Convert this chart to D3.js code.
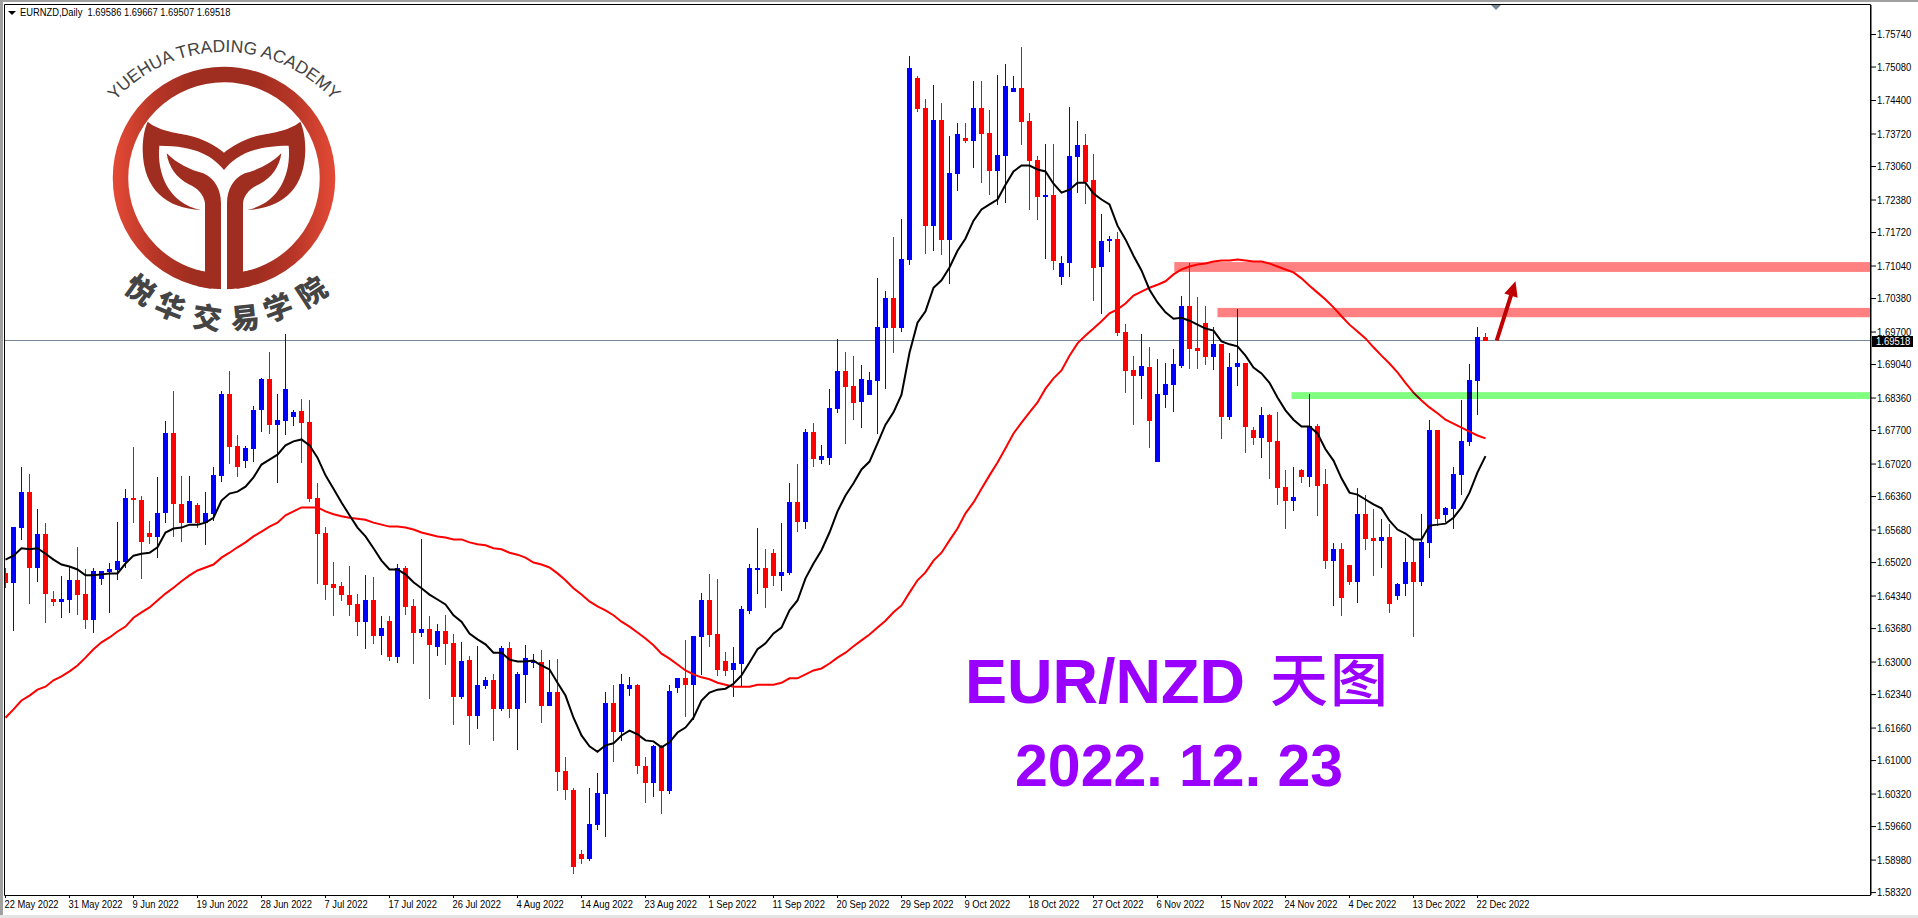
<!DOCTYPE html>
<html><head><meta charset="utf-8">
<script src="https://cdn.jsdelivr.net/npm/d3@7/dist/d3.min.js"></script>
<style>
html,body{margin:0;padding:0;background:#fff;overflow:hidden}
svg{display:block}
.lab{font-family:"Liberation Sans",Arial,sans-serif;font-size:11px;fill:#000}
</style></head><body><svg id="c" width="1918" height="918"></svg>
<script>
const title = "EURNZD,Daily  1.69586 1.69667 1.69507 1.69518";
const dateLabels = ["22 May 2022","31 May 2022","9 Jun 2022","19 Jun 2022","28 Jun 2022","7 Jul 2022","17 Jul 2022","26 Jul 2022","4 Aug 2022","14 Aug 2022","23 Aug 2022","1 Sep 2022","11 Sep 2022","20 Sep 2022","29 Sep 2022","9 Oct 2022","18 Oct 2022","27 Oct 2022","6 Nov 2022","15 Nov 2022","24 Nov 2022","4 Dec 2022","13 Dec 2022","22 Dec 2022"];
const priceTicks = [1.7574,1.7508,1.7440,1.7372,1.7306,1.7238,1.7172,1.7104,1.7038,1.6970,1.6904,1.6836,1.6770,1.6702,1.6636,1.6568,1.6502,1.6434,1.6368,1.6300,1.6234,1.6166,1.6100,1.6032,1.5966,1.5898,1.5832];
const lastPrice = 1.69518;
const opens = [1.6479,1.6459,1.6572,1.6645,1.6489,1.6558,1.6428,1.6420,1.6426,1.6465,1.6438,1.6385,1.6467,1.6481,1.6485,1.6503,1.6633,1.6629,1.6562,1.6552,1.6601,1.6765,1.6619,1.6582,1.6617,1.6582,1.6599,1.6676,1.6844,1.6737,1.6708,1.6731,1.6810,1.6873,1.6781,1.6789,1.6796,1.6808,1.6787,1.6633,1.6560,1.6457,1.6453,1.6436,1.6416,1.6381,1.6426,1.6351,1.6383,1.6310,1.6489,1.6412,1.6359,1.6367,1.6329,1.6363,1.6337,1.6229,1.6304,1.6190,1.6251,1.6262,1.6203,1.6327,1.6203,1.6272,1.6300,1.6300,1.6209,1.6239,1.6077,1.6040,1.5909,1.5899,1.5969,1.6032,1.6215,1.6158,1.6245,1.6253,1.6089,1.6054,1.6128,1.6038,1.6247,1.6266,1.6253,1.6349,1.6426,1.6355,1.6302,1.6282,1.6296,1.6402,1.6487,1.6489,1.6521,1.6473,1.6479,1.6623,1.6584,1.6767,1.6710,1.6714,1.6812,1.6889,1.6860,1.6826,1.6842,1.6869,1.6978,1.7039,1.6978,1.7116,1.7484,1.7423,1.7185,1.7400,1.7155,1.7289,1.7362,1.7356,1.7423,1.7374,1.7295,1.7327,1.7457,1.7465,1.7398,1.7319,1.7244,1.7248,1.7080,1.7110,1.7325,1.7348,1.7277,1.7100,1.7153,1.7157,1.6970,1.6891,1.6879,1.6899,1.6706,1.6842,1.6862,1.6901,1.7021,1.6936,1.6988,1.6919,1.6944,1.6796,1.6897,1.6907,1.6771,1.6753,1.6800,1.6747,1.6655,1.6625,1.6688,1.6674,1.6779,1.6660,1.6505,1.6528,1.6497,1.6461,1.6599,1.6550,1.6544,1.6552,1.6434,1.6457,1.6503,1.6461,1.6540,1.6771,1.6597,1.6609,1.6678,1.6745,1.6869,1.69586];
const closes = [1.6459,1.6574,1.6645,1.6489,1.6558,1.6438,1.6420,1.6428,1.6465,1.6436,1.6385,1.6483,1.6483,1.6487,1.6505,1.6633,1.6627,1.6542,1.6552,1.6601,1.6765,1.6619,1.6582,1.6625,1.6582,1.6601,1.6678,1.6844,1.6735,1.6696,1.6733,1.6810,1.6873,1.6781,1.6791,1.6854,1.6806,1.6785,1.6631,1.6558,1.6455,1.6449,1.6436,1.6414,1.6381,1.6426,1.6351,1.6369,1.6310,1.6489,1.6410,1.6359,1.6367,1.6333,1.6363,1.6335,1.6229,1.6302,1.6190,1.6253,1.6262,1.6203,1.6327,1.6203,1.6274,1.6308,1.6302,1.6209,1.6239,1.6075,1.6040,1.5882,1.5899,1.5971,1.6034,1.6215,1.6158,1.6255,1.6253,1.6087,1.6054,1.6128,1.6038,1.6241,1.6266,1.6253,1.6351,1.6426,1.6353,1.6282,1.6280,1.6298,1.6406,1.6489,1.6489,1.6449,1.6473,1.6481,1.6623,1.6584,1.6767,1.6712,1.6717,1.6814,1.6889,1.6858,1.6824,1.6873,1.6871,1.6980,1.7039,1.6978,1.7118,1.7506,1.7421,1.7185,1.7400,1.7155,1.7291,1.7370,1.7356,1.7423,1.7372,1.7295,1.7329,1.7469,1.7465,1.7396,1.7317,1.7244,1.7248,1.7114,1.7110,1.7327,1.7348,1.7274,1.7098,1.7153,1.7157,1.6968,1.6889,1.6879,1.6901,1.6789,1.6844,1.6864,1.6905,1.7021,1.6934,1.6931,1.6919,1.6944,1.6796,1.6899,1.6907,1.6777,1.6753,1.6800,1.6745,1.6653,1.6625,1.6635,1.6674,1.6779,1.6657,1.6505,1.6528,1.6430,1.6461,1.6599,1.6548,1.6544,1.6552,1.6416,1.6457,1.6503,1.6461,1.6542,1.6771,1.6590,1.6611,1.6680,1.6747,1.6871,1.6958,1.69518];
const highs = [1.6489,1.6574,1.6694,1.6680,1.6609,1.6582,1.6444,1.6473,1.6491,1.6532,1.6487,1.6489,1.6483,1.6501,1.6584,1.6651,1.6735,1.6637,1.6586,1.6674,1.6789,1.6850,1.6676,1.6676,1.6621,1.6645,1.6694,1.6850,1.6889,1.6759,1.6737,1.6818,1.6875,1.6929,1.6844,1.6966,1.6810,1.6834,1.6830,1.6662,1.6574,1.6503,1.6461,1.6495,1.6438,1.6475,1.6471,1.6392,1.6392,1.6499,1.6495,1.6428,1.6548,1.6392,1.6377,1.6394,1.6355,1.6339,1.6312,1.6331,1.6268,1.6274,1.6331,1.6339,1.6278,1.6333,1.6316,1.6323,1.6304,1.6306,1.6107,1.6044,1.5917,1.6044,1.6073,1.6239,1.6253,1.6274,1.6268,1.6255,1.6107,1.6130,1.6130,1.6253,1.6266,1.6343,1.6351,1.6440,1.6477,1.6467,1.6320,1.6329,1.6412,1.6499,1.6572,1.6528,1.6528,1.6582,1.6662,1.6702,1.6773,1.6785,1.6739,1.6854,1.6954,1.6929,1.6921,1.6903,1.6887,1.7078,1.7053,1.7161,1.7199,1.7530,1.7488,1.7443,1.7471,1.7433,1.7366,1.7394,1.7394,1.7478,1.7478,1.7419,1.7490,1.7514,1.7488,1.7547,1.7413,1.7327,1.7350,1.7350,1.7124,1.7425,1.7398,1.7372,1.7331,1.7208,1.7163,1.7173,1.6986,1.6921,1.6966,1.6938,1.6915,1.6907,1.6934,1.7043,1.7110,1.7041,1.7021,1.6980,1.6944,1.6927,1.7015,1.6907,1.6777,1.6816,1.6802,1.6806,1.6688,1.6694,1.6690,1.6844,1.6783,1.6690,1.6540,1.6540,1.6497,1.6653,1.6639,1.6609,1.6590,1.6580,1.6459,1.6550,1.6550,1.6599,1.6791,1.6771,1.6613,1.6694,1.6830,1.6905,1.6980,1.69667];
const lows = [1.6450,1.6363,1.6546,1.6416,1.6461,1.6379,1.6412,1.6389,1.6398,1.6394,1.6367,1.6359,1.6455,1.6398,1.6465,1.6489,1.6582,1.6467,1.6538,1.6511,1.6582,1.6552,1.6542,1.6582,1.6572,1.6536,1.6586,1.6664,1.6702,1.6674,1.6692,1.6706,1.6767,1.6763,1.6662,1.6759,1.6779,1.6704,1.6623,1.6457,1.6426,1.6392,1.6422,1.6392,1.6351,1.6325,1.6335,1.6314,1.6302,1.6298,1.6394,1.6296,1.6349,1.6225,1.6312,1.6294,1.6172,1.6223,1.6130,1.6164,1.6245,1.6138,1.6199,1.6186,1.6120,1.6215,1.6286,1.6176,1.6209,1.6038,1.6018,1.5868,1.5890,1.5896,1.5959,1.5943,1.6097,1.6138,1.6231,1.6071,1.6012,1.6026,1.5990,1.6032,1.6237,1.6188,1.6182,1.6272,1.6329,1.6270,1.6270,1.6229,1.6249,1.6396,1.6438,1.6408,1.6453,1.6444,1.6475,1.6564,1.6570,1.6694,1.6702,1.6700,1.6804,1.6741,1.6791,1.6775,1.6842,1.6761,1.6854,1.6927,1.6970,1.7106,1.7415,1.7128,1.7134,1.7126,1.7067,1.7256,1.7352,1.7301,1.7272,1.7248,1.7226,1.7230,1.7457,1.7348,1.7216,1.7197,1.7118,1.7094,1.7065,1.7080,1.7252,1.7228,1.7033,1.7005,1.7132,1.6960,1.6846,1.6781,1.6834,1.6733,1.6706,1.6814,1.6806,1.6895,1.6893,1.6893,1.6903,1.6891,1.6751,1.6791,1.6860,1.6724,1.6739,1.6714,1.6670,1.6617,1.6570,1.6606,1.6662,1.6655,1.6595,1.6487,1.6412,1.6392,1.6455,1.6418,1.6526,1.6473,1.6489,1.6398,1.6426,1.6434,1.6349,1.6453,1.6511,1.6576,1.6584,1.6570,1.6639,1.6737,1.6800,1.69507];
const maFast = [1.6507,1.6515,1.6530,1.6528,1.6530,1.6519,1.6507,1.6497,1.6493,1.6487,1.6475,1.6475,1.6477,1.6479,1.6479,1.6499,1.6515,1.6519,1.6521,1.6532,1.6562,1.6570,1.6572,1.6578,1.6578,1.6582,1.6592,1.6627,1.6641,1.6645,1.6655,1.6674,1.6700,1.6710,1.6720,1.6739,1.6747,1.6751,1.6739,1.6714,1.6678,1.6651,1.6623,1.6597,1.6572,1.6554,1.6530,1.6505,1.6487,1.6487,1.6477,1.6461,1.6449,1.6436,1.6426,1.6416,1.6394,1.6381,1.6357,1.6345,1.6335,1.6318,1.6318,1.6304,1.6300,1.6300,1.6302,1.6292,1.6284,1.6257,1.6231,1.6186,1.6150,1.6128,1.6117,1.6130,1.6134,1.6150,1.6160,1.6152,1.6140,1.6138,1.6126,1.6136,1.6156,1.6166,1.6186,1.6221,1.6237,1.6243,1.6245,1.6255,1.6272,1.6298,1.6325,1.6337,1.6357,1.6369,1.6404,1.6424,1.6469,1.6499,1.6526,1.6562,1.6605,1.6637,1.6662,1.6690,1.6706,1.6743,1.6781,1.6806,1.6842,1.6927,1.6988,1.7011,1.7059,1.7074,1.7100,1.7134,1.7159,1.7195,1.7218,1.7228,1.7238,1.7268,1.7295,1.7307,1.7307,1.7299,1.7295,1.7270,1.7252,1.7258,1.7272,1.7272,1.7250,1.7238,1.7228,1.7185,1.7157,1.7124,1.7094,1.7055,1.7029,1.7009,1.6996,1.6998,1.6992,1.6984,1.6976,1.6972,1.6950,1.6944,1.6940,1.6921,1.6897,1.6885,1.6866,1.6836,1.6810,1.6791,1.6777,1.6777,1.6763,1.6731,1.6708,1.6672,1.6643,1.6639,1.6629,1.6619,1.6611,1.6586,1.6568,1.6560,1.6548,1.6548,1.6576,1.6578,1.6580,1.6592,1.6613,1.6643,1.6684,1.6717];
const maSlow = [1.6186,1.6203,1.6221,1.6231,1.6243,1.6249,1.6262,1.6270,1.6280,1.6292,1.6308,1.6325,1.6339,1.6349,1.6361,1.6371,1.6389,1.6400,1.6410,1.6424,1.6438,1.6450,1.6463,1.6475,1.6485,1.6491,1.6497,1.6511,1.6521,1.6532,1.6542,1.6554,1.6564,1.6574,1.6582,1.6597,1.6605,1.6613,1.6613,1.6613,1.6605,1.6599,1.6595,1.6592,1.6590,1.6588,1.6582,1.6578,1.6574,1.6574,1.6572,1.6568,1.6562,1.6558,1.6554,1.6552,1.6548,1.6548,1.6542,1.6538,1.6536,1.6530,1.6528,1.6521,1.6517,1.6511,1.6501,1.6497,1.6491,1.6479,1.6465,1.6449,1.6436,1.6422,1.6412,1.6404,1.6394,1.6381,1.6371,1.6359,1.6347,1.6333,1.6316,1.6306,1.6294,1.6282,1.6274,1.6268,1.6264,1.6257,1.6253,1.6249,1.6249,1.6249,1.6253,1.6253,1.6253,1.6257,1.6266,1.6266,1.6274,1.6282,1.6286,1.6296,1.6308,1.6318,1.6331,1.6343,1.6355,1.6369,1.6383,1.6400,1.6414,1.6440,1.6465,1.6481,1.6505,1.6521,1.6546,1.6570,1.6601,1.6623,1.6651,1.6678,1.6704,1.6733,1.6763,1.6785,1.6806,1.6826,1.6854,1.6875,1.6891,1.6921,1.6946,1.6962,1.6976,1.6991,1.7007,1.7015,1.7027,1.7043,1.7051,1.7059,1.7065,1.7072,1.7086,1.7096,1.7102,1.7106,1.7108,1.7112,1.7114,1.7114,1.7116,1.7114,1.7112,1.7112,1.7108,1.7102,1.7096,1.7090,1.7078,1.7063,1.7049,1.7035,1.7019,1.7001,1.6984,1.6970,1.6956,1.6938,1.6921,1.6905,1.6887,1.6866,1.6846,1.6830,1.6816,1.6804,1.6791,1.6783,1.6775,1.6767,1.6759,1.6753];
const bandStart = [146.1,151.5,160.75];
const bandTop = [1.7110,1.7017,1.6846];
const bandBottom = [1.7090,1.6998,1.6832];
const bandColor = ["#ff8080","#ff8080","#80ff80"];
const arrowFrom = [186.4,1.69518], arrowTo = [188.75,1.7072];
const logoChars = ["悦","华","交","易","学","院"];

const W=1918,H=918,L=5,R=1870,T=5,B=895;
const svg=d3.select("#c");
const x=d3.scaleLinear().domain([0,185]).range([5.5,1485.5]);
const y=d3.scaleLinear().domain([lastPrice,1.5832]).range([340.5,892.1]);
const defs=svg.append("defs");
defs.append("clipPath").attr("id","plot").append("rect").attr("x",L).attr("y",T).attr("width",R-L).attr("height",B-T);

// window chrome
svg.append("rect").attr("width",W).attr("height",H).attr("fill","#fff");
svg.append("rect").attr("x",0).attr("y",0).attr("width",W).attr("height",2).attr("fill","#a0a0a0");
svg.append("rect").attr("x",0).attr("y",0).attr("width",3).attr("height",H).attr("fill","#a0a0a0");
svg.append("rect").attr("x",0).attr("y",915).attr("width",W).attr("height",3).attr("fill","#e4e4e4");

const plot=svg.append("g").attr("clip-path","url(#plot)");
// last price line
plot.append("line").attr("x1",L).attr("x2",R).attr("y1",y(lastPrice)).attr("y2",y(lastPrice)).attr("stroke","#778899").attr("stroke-width",1);

// candles
const idx=d3.range(opens.length);
const col=i=>closes[i]>=opens[i]?"#0000ff":"#ff0000";
plot.append("g").selectAll("rect").data(idx).join("rect")
 .attr("x",i=>x(i)-0.5).attr("width",1)
 .attr("y",i=>Math.round(y(highs[i]))).attr("height",i=>Math.max(1,Math.round(y(lows[i]))-Math.round(y(highs[i]))))
 .attr("fill",col);
plot.append("g").selectAll("rect").data(idx).join("rect")
 .attr("x",i=>x(i)-2.5).attr("width",5)
 .attr("y",i=>Math.round(y(Math.max(opens[i],closes[i]))))
 .attr("height",i=>Math.max(2,Math.round(y(Math.min(opens[i],closes[i])))-Math.round(y(Math.max(opens[i],closes[i])))))
 .attr("fill",col);

// moving averages
const ln=d3.line().x((d,i)=>x(i)).y(d=>y(d));
plot.append("path").attr("d",ln(maSlow)).attr("fill","none").attr("stroke","#ff0000").attr("stroke-width",2);
plot.append("path").attr("d",ln(maFast)).attr("fill","none").attr("stroke","#000").attr("stroke-width",2);

// bands
plot.append("g").selectAll("rect").data(bandStart).join("rect")
 .attr("x",d=>x(d)).attr("width",d=>R-x(d))
 .attr("y",(d,i)=>y(bandTop[i])-0.5).attr("height",(d,i)=>y(bandBottom[i])-y(bandTop[i]))
 .attr("fill",(d,i)=>bandColor[i]).style("mix-blend-mode","multiply");

// arrow
(function(){
 const x0=x(arrowFrom[0]),y0=y(arrowFrom[1]),x1=x(arrowTo[0]),y1=y(arrowTo[1]);
 const dx=x1-x0,dy=y1-y0,l=Math.hypot(dx,dy),ux=dx/l,uy=dy/l,nx=-uy,ny=ux,sw=2,hw=7,hl=15;
 const bx=x1-ux*hl,by=y1-uy*hl;
 const pts=[[x0+nx*sw,y0+ny*sw],[bx+nx*sw,by+ny*sw],[bx+nx*hw,by+ny*hw],[x1,y1],[bx-nx*hw,by-ny*hw],[bx-nx*sw,by-ny*sw],[x0-nx*sw,y0-ny*sw]];
 svg.append("polygon").attr("points",pts.map(p=>p.join(",")).join(" ")).attr("fill","#c00000");
})();

// frame + axes
svg.append("path").attr("d",`M${L-0.5},${B+0.5}V${T-0.5}H${R+0.5}V${B+0.5}H${L-0.5}`).attr("fill","none").attr("stroke","#000");
svg.append("line").attr("x1",R+1).attr("x2",R+1).attr("y1",T).attr("y2",B).attr("stroke","#000");

function squeeze(sel,f){sel.each(function(){const w=this.getComputedTextLength();this.setAttribute("textLength",w*f);this.setAttribute("lengthAdjust","spacingAndGlyphs");});}

const ax=svg.append("g").attr("transform",`translate(0,${B})`).call(
  d3.axisBottom(x).tickValues(dateLabels.map((d,i)=>i*8)).tickFormat((d,i)=>dateLabels[i]).tickSize(3).tickPadding(3).offset(0));
ax.select(".domain").remove();
ax.selectAll("line").attr("stroke","#000");
ax.selectAll("text").attr("class","lab").attr("text-anchor","start").attr("dy",null).attr("y",12.5).attr("x",-1).style("font-family",'"Liberation Sans"').style("font-size","11px");
squeeze(ax.selectAll("text"),0.85);

const ay=svg.append("g").attr("transform",`translate(${R+1},0)`).call(
  d3.axisRight(y).tickValues(priceTicks).tickFormat(d3.format(".5f")).tickSize(5).tickPadding(1).offset(0.5));
ay.select(".domain").remove();
ay.selectAll("line").attr("stroke","#000");
ay.selectAll("text").attr("class","lab").style("font-family",'"Liberation Sans"').style("font-size","11px");
squeeze(ay.selectAll("text"),0.86);

// last price tag
svg.append("rect").attr("x",1872).attr("y",Math.round(y(lastPrice))-5).attr("width",41).attr("height",11).attr("fill","#000");
const tag=svg.append("text").attr("class","lab").attr("x",1876).attr("y",y(lastPrice)+4).style("fill","#fff").text(d3.format(".5f")(lastPrice));
squeeze(tag,0.86);

// title
svg.append("path").attr("d","M8,11H16L12,15Z").attr("fill","#000");
const tt=svg.append("text").attr("class","lab").attr("x",20).attr("y",16).style("white-space","pre").text(title);
squeeze(tt,0.85);

// shift marker
svg.append("path").attr("d","M1491,5H1501L1496,10Z").attr("fill","#778899");

// big labels
svg.append("text").attr("x",965).attr("y",702.5).attr("fill","#9900ff").style("font-family",'"Liberation Sans"').style("font-weight","bold").style("font-size","63px").text("EUR/NZD");
svg.append("text").attr("x",1270).attr("y",701).attr("fill","#9900ff").style("font-family",'"Noto Sans CJK SC"').style("font-weight","500").style("font-size","58px").style("letter-spacing","2px").text("天图");
svg.append("text").attr("x",1015).attr("y",786).attr("fill","#9900ff").style("font-family",'"Liberation Sans"').style("font-weight","bold").style("font-size","59px").style("white-space","pre").text("2022. 12. 23");

// logo
const grad=defs.append("linearGradient").attr("id","lg").attr("gradientUnits","userSpaceOnUse").attr("x1",113).attr("x2",335).attr("y1",0).attr("y2",0);
[[0,"#e44a36"],[.2,"#b53526"],[.35,"#a02e20"],[.65,"#a02e20"],[.8,"#b53526"],[1,"#e44a36"]].forEach(s=>grad.append("stop").attr("offset",s[0]).attr("stop-color",s[1]));
const lg=svg.append("g");
const cx=224,cy=178;
lg.append("circle").attr("cx",cx).attr("cy",cy).attr("r",103.5).attr("fill","none").attr("stroke","url(#lg)").attr("stroke-width",15.5);
function half(m){
 const X=a=>m?1344-a:a;
 const p=(a,b)=>`${X(a)/3},${b/3}`;
 return [
  `M${p(443,365)}C${p(480,395)},${p(540,400)},${p(560,405)}C${p(610,415)},${p(650,440)},${p(672,458)}L${p(672,510)}C${p(640,470)},${p(590,437)},${p(478,437)}C${p(470,520)},${p(505,610)},${p(603,630)}C${p(500,625)},${p(430,570)},${p(428,450)}C${p(428,420)},${p(432,390)},${p(443,365)}Z`,
  `M${p(500,460)}C${p(530,490)},${p(570,510)},${p(610,520)}C${p(645,535)},${p(663,570)},${p(663,610)}L${p(663,840)}C${p(655,855)},${p(645,863)},${p(630,866)}L${p(590,858)}L${p(590,810)}L${p(615,815)}L${p(615,610)}C${p(612,585)},${p(595,565)},${p(565,552)}C${p(530,535)},${p(505,500)},${p(500,460)}Z`
 ];
}
half(false).concat(half(true)).forEach(d=>lg.append("path").attr("d",d).attr("fill","#a02e20"));
lg.append("rect").attr("x",221).attr("y",262).attr("width",6).attr("height",32).attr("fill","#fff");

defs.append("path").attr("id","arcTop").attr("d","M78,198A146,146 0 0 1 370,198");
svg.append("text").style("font-family",'"Liberation Sans"').style("font-size","17.5px").attr("fill","#444").append("textPath").attr("href","#arcTop").attr("startOffset","50%").attr("text-anchor","middle").text("YUEHUA TRADING ACADEMY");
// Chinese name placed glyph by glyph along the lower arc
const charX=[140,170,207,245,278,312],charY=[290,307,318,318,308,292],charRot=[36,22,8,-6,-20,-33];
svg.append("g").selectAll("text").data(logoChars).join("text")
 .attr("transform",(d,i)=>`translate(${charX[i]},${charY[i]}) rotate(${charRot[i]})`)
 .attr("text-anchor","middle").attr("dy","0.36em").attr("fill","#444")
 .style("font-family",'"Noto Sans CJK SC"').style("font-weight","900").style("font-size","29px").text(d=>d);
</script></body></html>
